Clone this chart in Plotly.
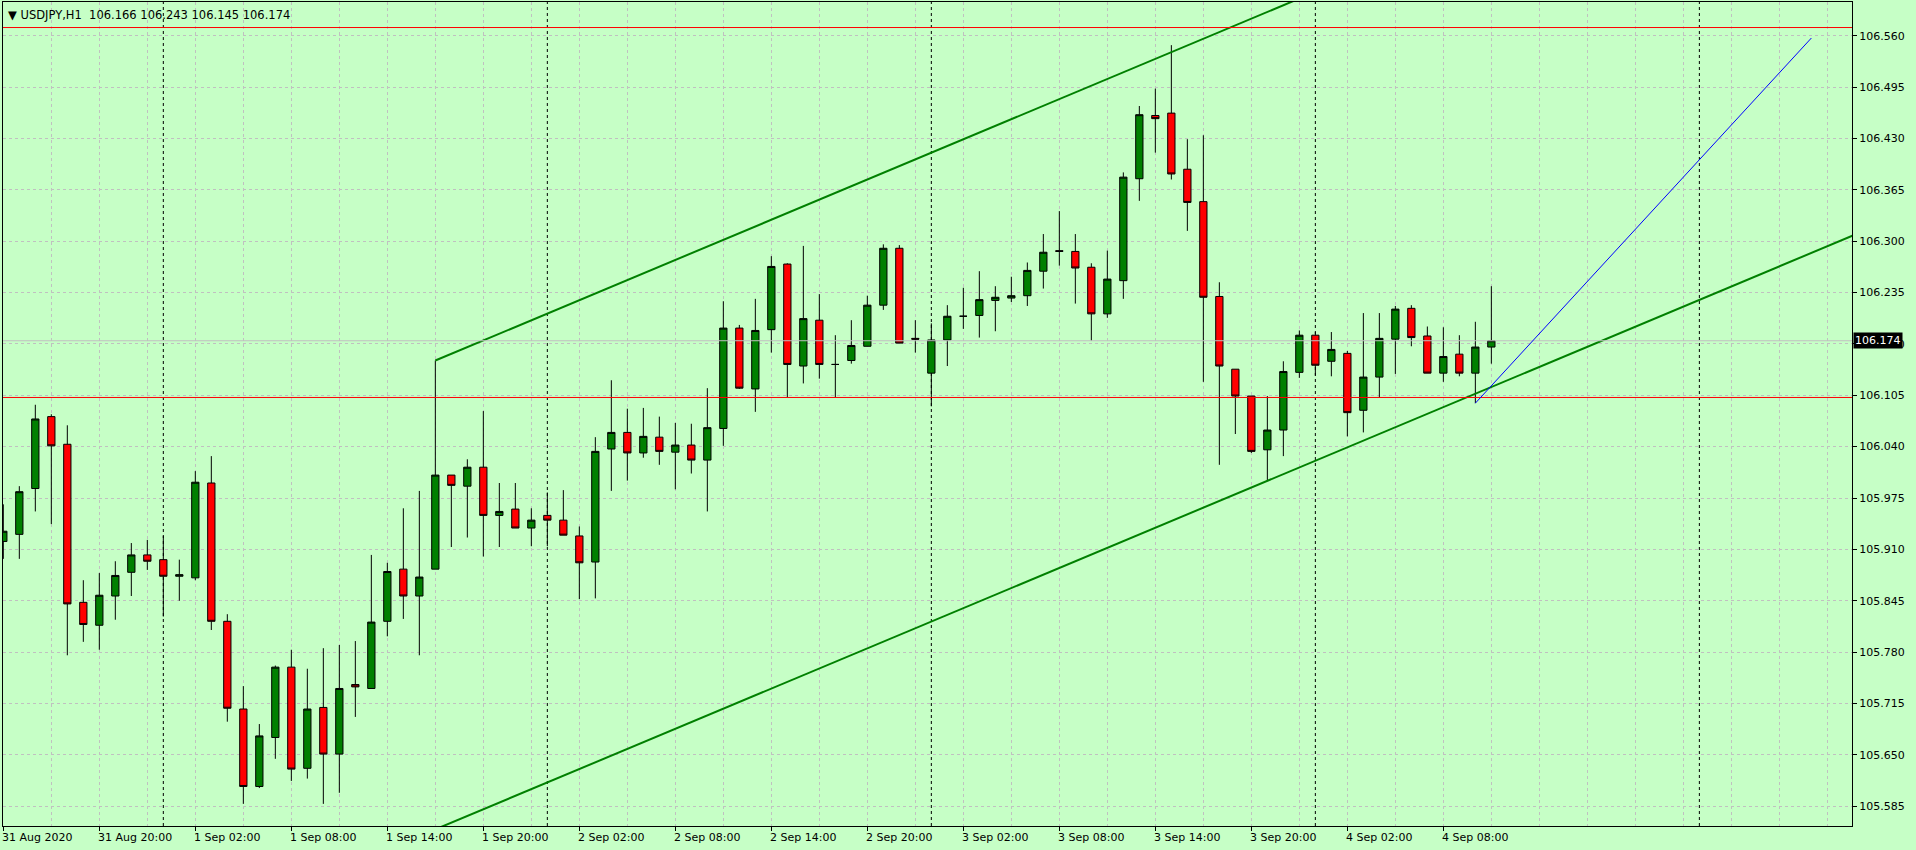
import plotly.graph_objects as go
import pandas as pd

# USDJPY H1 bars, 31 Aug 2020 14:00 -> 4 Sep 2020 11:00
opens  = [105.920, 105.929, 105.987, 106.078, 106.043, 105.843, 105.814, 105.851, 105.881, 105.903,
          105.897, 105.876, 105.874, 105.994, 105.819, 105.708, 105.610, 105.672, 105.761, 105.633,
          105.710, 105.651, 105.739, 105.734, 105.819, 105.885, 105.851, 105.885, 106.004, 105.990,
          106.014, 105.953, 105.961, 105.937, 105.953, 105.947, 105.927, 105.894, 106.037, 106.058,
          106.032, 106.052, 106.033, 106.042, 106.023, 106.063, 106.190, 106.113, 106.188, 106.271,
          106.142, 106.200, 106.144, 106.149, 106.167, 106.219, 106.291, 106.177, 106.133, 106.175,
          106.205, 106.206, 106.225, 106.228, 106.231, 106.262, 106.288, 106.287, 106.267, 106.208,
          106.250, 106.379, 106.459, 106.462, 106.391, 106.350, 106.230, 106.138, 106.104, 106.036,
          106.061, 106.134, 106.181, 106.148, 106.158, 106.086, 106.128, 106.176, 106.215, 106.180,
          106.133, 106.157, 106.133, 106.166]
highs  = [105.967, 105.990, 106.093, 106.081, 106.067, 105.871, 105.880, 105.895, 105.918, 105.922,
          105.927, 105.897, 106.009, 106.028, 105.828, 105.737, 105.689, 105.763, 105.783, 105.759,
          105.785, 105.789, 105.794, 105.903, 105.893, 105.962, 105.984, 106.149, 106.004, 106.024,
          106.085, 105.994, 105.994, 105.962, 105.982, 105.985, 105.939, 106.052, 106.124, 106.088,
          106.089, 106.078, 106.070, 106.069, 106.114, 106.224, 106.194, 106.227, 106.281, 106.272,
          106.294, 106.233, 106.181, 106.200, 106.231, 106.296, 106.295, 106.200, 106.196, 106.219,
          106.241, 106.262, 106.243, 106.255, 106.273, 106.309, 106.338, 106.309, 106.272, 106.288,
          106.387, 106.471, 106.493, 106.548, 106.429, 106.434, 106.248, 106.138, 106.104, 106.104,
          106.148, 106.187, 106.185, 106.185, 106.161, 106.209, 106.209, 106.218, 106.219, 106.192,
          106.191, 106.181, 106.198, 106.243]
lows   = [105.898, 105.898, 105.958, 105.942, 105.776, 105.793, 105.783, 105.821, 105.851, 105.884,
          105.825, 105.845, 105.871, 105.808, 105.692, 105.588, 105.608, 105.645, 105.617, 105.620,
          105.588, 105.602, 105.698, 105.734, 105.800, 105.822, 105.776, 105.885, 105.913, 105.925,
          105.901, 105.913, 105.937, 105.914, 105.914, 105.928, 105.847, 105.848, 105.984, 105.997,
          106.026, 106.017, 105.986, 106.006, 105.958, 106.041, 106.113, 106.084, 106.159, 106.102,
          106.120, 106.126, 106.102, 106.145, 106.167, 106.213, 106.171, 106.159, 106.091, 106.142,
          106.189, 106.178, 106.186, 106.223, 106.218, 106.240, 106.269, 106.221, 106.174, 106.203,
          106.227, 106.351, 106.412, 106.378, 106.313, 106.122, 106.017, 106.056, 106.032, 105.997,
          106.028, 106.127, 106.130, 106.129, 106.053, 106.058, 106.102, 106.132, 106.167, 106.133,
          106.122, 106.129, 106.095, 106.145]
closes = [105.933, 105.983, 106.075, 106.041, 105.841, 105.815, 105.852, 105.877, 105.903, 105.895,
          105.876, 105.878, 105.995, 105.819, 105.709, 105.610, 105.674, 105.761, 105.632, 105.708,
          105.651, 105.734, 105.736, 105.818, 105.882, 105.851, 105.875, 106.004, 105.991, 106.014,
          105.953, 105.958, 105.937, 105.947, 105.947, 105.928, 105.893, 106.034, 106.058, 106.032,
          106.053, 106.034, 106.042, 106.023, 106.064, 106.190, 106.114, 106.187, 106.268, 106.144,
          106.202, 106.144, 106.144, 106.168, 106.219, 106.291, 106.171, 106.176, 106.175, 106.205,
          106.205, 106.226, 106.229, 106.231, 106.263, 106.286, 106.287, 106.266, 106.208, 106.252,
          106.381, 106.460, 106.455, 106.385, 106.349, 106.229, 106.142, 106.104, 106.034, 106.061,
          106.135, 106.181, 106.143, 106.163, 106.083, 106.128, 106.177, 106.214, 106.178, 106.133,
          106.154, 106.133, 106.166, 106.174]

times = pd.date_range("2020-08-31 14:00", periods=len(opens), freq="h")
bars = list(range(len(opens)))      # MT4 draws bars without gaps -> x is the bar number

# time axis labels (MT4 puts the label's left edge on the bar)
tick_bars = [0, 6, 12, 18, 24, 30, 36, 42, 48, 54, 60, 66, 72, 78, 84, 90]
tick_labels = ["31 Aug 2020", "31 Aug 20:00", "1 Sep 02:00", "1 Sep 08:00", "1 Sep 14:00",
               "1 Sep 20:00", "2 Sep 02:00", "2 Sep 08:00", "2 Sep 14:00", "2 Sep 20:00",
               "3 Sep 02:00", "3 Sep 08:00", "3 Sep 14:00", "3 Sep 20:00", "4 Sep 02:00",
               "4 Sep 08:00"]
day_sep_bars = [10, 34, 58, 82, 106]    # 00:00 of each day (period separators)

# objects drawn on the chart
chan_bars = [27, 79]                # upper channel line anchors
chan_prices = [106.149, 106.590]
chan_low_bar, chan_low_price = 92, 106.107   # third point -> parallel lower line
trend_bars = [92, 113]              # blue trendline
trend_prices = [106.095, 106.557]
hline_prices = [106.5703, 106.1022]   # red horizontal lines
bid_price = 106.174

BG = "#C6FFC6"
GRID = "#C0C0C0"
FONT = "DejaVu Sans"

fig = go.Figure()

# channel: extend both lines to the right like MT4 rays
slope = (chan_prices[1] - chan_prices[0]) / (chan_bars[1] - chan_bars[0])
x_end = 117
fig.add_trace(go.Scatter(x=[chan_bars[0], x_end],
                         y=[chan_prices[0], chan_prices[0] + slope * (x_end - chan_bars[0])],
                         mode="lines", line=dict(color="#008000", width=2), hoverinfo="skip"))
fig.add_trace(go.Scatter(x=[chan_bars[0], x_end],
                         y=[chan_low_price + slope * (chan_bars[0] - chan_low_bar),
                            chan_low_price + slope * (x_end - chan_low_bar)],
                         mode="lines", line=dict(color="#008000", width=2), hoverinfo="skip"))

# horizontal lines + bid line
for p in hline_prices:
    fig.add_trace(go.Scatter(x=[-1, x_end], y=[p, p], mode="lines",
                             line=dict(color="#FF0000", width=1), hoverinfo="skip"))
fig.add_trace(go.Scatter(x=[-1, x_end], y=[bid_price, bid_price], mode="lines",
                         line=dict(color="#C0C0C0", width=1), hoverinfo="skip"))

fig.add_trace(go.Scatter(x=trend_bars, y=trend_prices, mode="lines",
                         line=dict(color="#0000FF", width=1), hoverinfo="skip"))

fig.add_trace(go.Candlestick(x=bars, open=opens, high=highs, low=lows, close=closes,
                             text=[t.strftime("%d %b %H:%M") for t in times],
                             increasing=dict(fillcolor="#008000", line=dict(color="black", width=1)),
                             decreasing=dict(fillcolor="#FF0000", line=dict(color="black", width=1)),
                             whiskerwidth=0))

# period separators
for b in day_sep_bars:
    fig.add_shape(type="line", xref="x", yref="paper", x0=b, x1=b, y0=0, y1=1,
                  line=dict(color="black", width=1, dash="3px,3px"), layer="below")

# time labels, left aligned at the tick
for b, lab in zip(tick_bars, tick_labels):
    fig.add_annotation(x=b, y=0, xref="x", yref="paper", text=lab, showarrow=False,
                       xanchor="left", yanchor="top", xshift=-3, yshift=-3,
                       font=dict(family=FONT, size=11, color="black"))

# header + current price box
fig.add_annotation(x=0, y=1, xref="paper", yref="paper", xanchor="left", yanchor="top",
                   text="▼ USDJPY,H1\u00a0\u00a0106.166 106.243 106.145 106.174",
                   showarrow=False, xshift=3, yshift=-4,
                   font=dict(family=FONT, size=11.5, color="black"))
fig.add_annotation(x=1, y=bid_price, xref="paper", yref="y", xanchor="left", yanchor="middle",
                   text="106.174", showarrow=False, bgcolor="black", borderpad=1, xshift=1,
                   font=dict(family=FONT, size=11, color="white"))

fig.update_xaxes(range=[-0.02, 115.54], showline=True, mirror=True, linecolor="black", linewidth=1,
                 tickmode="array", tickvals=tick_bars, showticklabels=False,
                 ticks="outside", ticklen=4, tickcolor="black",
                 showgrid=True, gridcolor=GRID, griddash="3px,3px", zeroline=False,
                 minor=dict(tickmode="linear", tick0=0, dtick=3, showgrid=True,
                            gridcolor=GRID, griddash="3px,3px", ticks=""),
                 rangeslider_visible=False)
fig.update_yaxes(range=[105.5600, 106.6026], side="right", showline=True, mirror=True,
                 linecolor="black", linewidth=1, tickmode="linear", tick0=105.585, dtick=0.065,
                 tickformat=".3f", ticks="outside", ticklen=4, tickcolor="black",
                 tickfont=dict(family=FONT, size=11, color="black"),
                 showgrid=True, gridcolor=GRID, griddash="3px,3px", zeroline=False)

fig.update_layout(width=1916, height=850, autosize=False, showlegend=False,
                  margin=dict(l=3, r=64, t=2, b=24), boxgap=0.35,
                  plot_bgcolor=BG, paper_bgcolor=BG, hovermode=False)

# page has a default 8px body margin -> drop it so the chart sits at the window corner
fig.write_html("out.html", config={"displayModeBar": False},
               post_script="document.body.style.margin='0';")
